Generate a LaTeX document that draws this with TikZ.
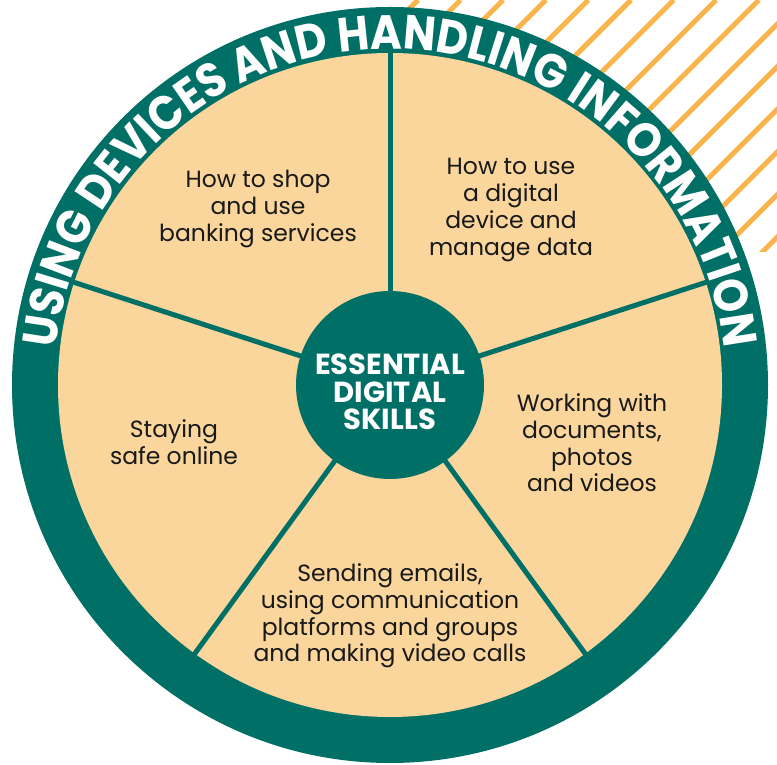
\documentclass[tikz,border=0pt]{standalone}
\usepackage{fontspec}
\setmainfont{Poppins}
\newfontfamily\ringfont{Poppins}[FakeStretch=0.9]
\usetikzlibrary{decorations.text}
\definecolor{teal0}{RGB}{0,112,103}
\definecolor{beige0}{RGB}{250,214,156}
\definecolor{stripe0}{RGB}{249,180,76}
\definecolor{ink0}{RGB}{25,25,25}
\begin{document}
\begin{tikzpicture}[x=1pt,y=1pt,
  lbl/.style={align=center, text=ink0, font=\fontsize{23.5}{26.7}\selectfont, inner sep=0pt},
  spoke/.style={draw=teal0, line width=5pt},
  stripe/.style={draw=stripe0, line width=5pt}]
\useasboundingbox (0,0) rectangle (777,765);
\coordinate (C) at (390,380);
% diagonal stripes, top right
\begin{scope}
  \clip (405,513) rectangle (777,765);
  \foreach \k in {-1,...,16} {
    \draw[stripe] ({418+42.6*\k},765) -- ++(-320,-320);
  }
\end{scope}
% outer ring and inner disc
\fill[teal0] (C) circle[radius=378];
\fill[beige0] (C) circle[radius=332];
% rim points
\foreach \a/\n in {90/1,18/2,-54/3,-126/4,162/5}
  \coordinate (r\n) at ([shift={(\a:333)}]C);
% hub
\node[circle, fill=teal0, minimum size=188pt, inner sep=0pt] (hub) at (C) {};
\foreach \n in {1,...,5}
  \draw[spoke, shorten <=-4pt] (hub) -- (r\n);
\node[align=center, text=white, font=\bfseries\fontsize{29}{27.5}\selectfont, inner sep=0pt] (hubtext) at (390,373) {ESSENTIAL\\DIGITAL\\SKILLS};
% ring text
\path[decorate, decoration={text along path, text align=center,
  text={|\ringfont\bfseries\fontsize{48}{48}\selectfont\color{white}|USING DEVICES AND HANDLING INFORMATION}}]
  ([shift={(180:336)}]C) arc[start angle=180, end angle=0, radius=336];
% segment labels
\node[lbl] (shop) at (258,556) {How to shop\\and use\\banking services};
\node[lbl] (device) at (511,555) {How to use\\a digital\\device and\\manage data};
\node[lbl] (safe) at (174,323) {Staying\\safe online};
\node[lbl] (docs) at (592,322) {Working with\\documents,\\photos\\and videos};
\node[lbl] (comms) at (390,149) {Sending emails,\\using communication\\platforms and groups\\and making video calls};
\end{tikzpicture}
\end{document}
